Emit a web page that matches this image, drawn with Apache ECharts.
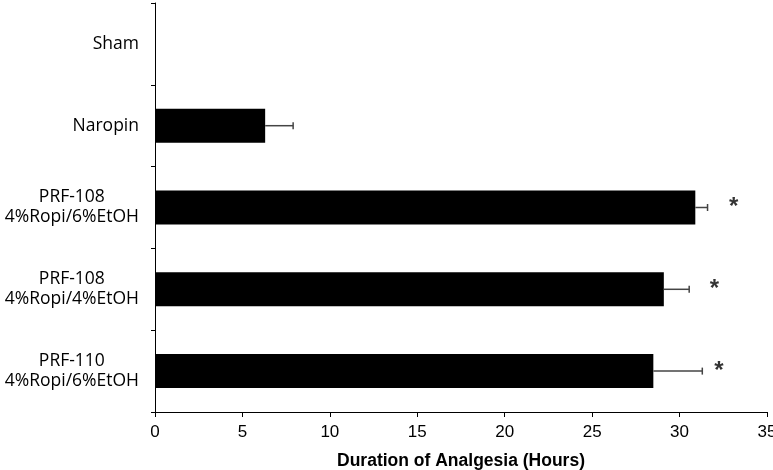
<!DOCTYPE html>
<html>
<head>
<meta charset="utf-8">
<script src="https://cdn.jsdelivr.net/npm/echarts@6/dist/echarts.min.js"></script>
<style>
  html, body { margin: 0; padding: 0; background: #fff; }
  #chart { width: 773px; height: 470px; }
</style>
</head>
<body>
<div id="chart"></div>
<script>
// groups, top to bottom
var groups = ['Sham', 'Naropin', 'PRF-108\n4%Ropi/6%EtOH', 'PRF-108\n4%Ropi/4%EtOH', 'PRF-110\n4%Ropi/6%EtOH']
// mean duration (hours) and error (+)
var meanHours = [0, 6.3, 30.9, 29.1, 28.5]
var errHours = [null, 1.6, 0.7, 1.45, 2.8]
// significance marks: x position of the asterisk, null = none
var starAt = [null, null, 33.1, 32.0, 32.25]
var xTicks = [0, 35, 5]

let myChart = echarts.init(document.getElementById('chart'))

let errData = []
let starData = []
for (let i = 0; i < groups.length; i++) {
  if (errHours[i] != null) errData.push([meanHours[i], i, errHours[i]])
  if (starAt[i] != null) starData.push([starAt[i], i])
}

myChart.setOption({
  animation: false,
  grid: { left: 155, right: 6, top: 3, bottom: 58, outerBoundsMode: 'none', containLabel: false },
  xAxis: {
    type: 'value',
    min: xTicks[0],
    max: xTicks[1],
    interval: xTicks[2],
    name: 'Duration of Analgesia (Hours)',
    nameLocation: 'middle',
    nameGap: 40,
    nameTextStyle: { fontFamily: 'Liberation Sans', fontWeight: 'bold', fontSize: 17.5, color: '#000' },
    axisLine: { show: true, lineStyle: { color: '#000', width: 1 } },
    axisTick: { show: true, length: 5, lineStyle: { color: '#000' } },
    axisLabel: { fontFamily: 'Liberation Sans', fontSize: 17, color: '#000', margin: 12 },
    splitLine: { show: false }
  },
  yAxis: {
    type: 'category',
    inverse: true,
    data: groups,
    axisLine: { show: true, lineStyle: { color: '#000', width: 1 } },
    axisTick: { show: true, length: 4, lineStyle: { color: '#000' } },
    axisLabel: {
      margin: 16,
      formatter: function (v) {
        return v.split('\n').map(function (s) { return '{c|' + s + '}' }).join('\n')
      },
      rich: {
        c: { align: 'center', fontFamily: 'Open Sans', fontSize: 17.5, lineHeight: 20, color: '#000' }
      }
    }
  },
  series: [
    {
      type: 'bar',
      data: meanHours,
      barWidth: 34,
      itemStyle: { color: '#000' }
    },
    {
      type: 'custom',
      data: errData,
      z: 3,
      renderItem: function (params, api) {
        let v = api.value(0)
        let c = api.value(1)
        let e = api.value(2)
        let p0 = api.coord([v, c])
        let p1 = api.coord([v + e, c])
        let style = { stroke: '#444', lineWidth: 1.5 }
        return {
          type: 'group',
          children: [
            { type: 'line', shape: { x1: p0[0], y1: p0[1], x2: p1[0], y2: p1[1] }, style: style },
            { type: 'line', shape: { x1: p1[0], y1: p1[1] - 3.5, x2: p1[0], y2: p1[1] + 3.5 }, style: style }
          ]
        }
      }
    },
    {
      type: 'scatter',
      data: starData,
      symbolSize: 0,
      label: {
        show: true,
        position: 'inside',
        formatter: '*',
        fontFamily: 'Liberation Sans',
        fontWeight: 'bold',
        fontSize: 24,
        color: '#000'
      }
    }
  ]
})
</script>
</body>
</html>
